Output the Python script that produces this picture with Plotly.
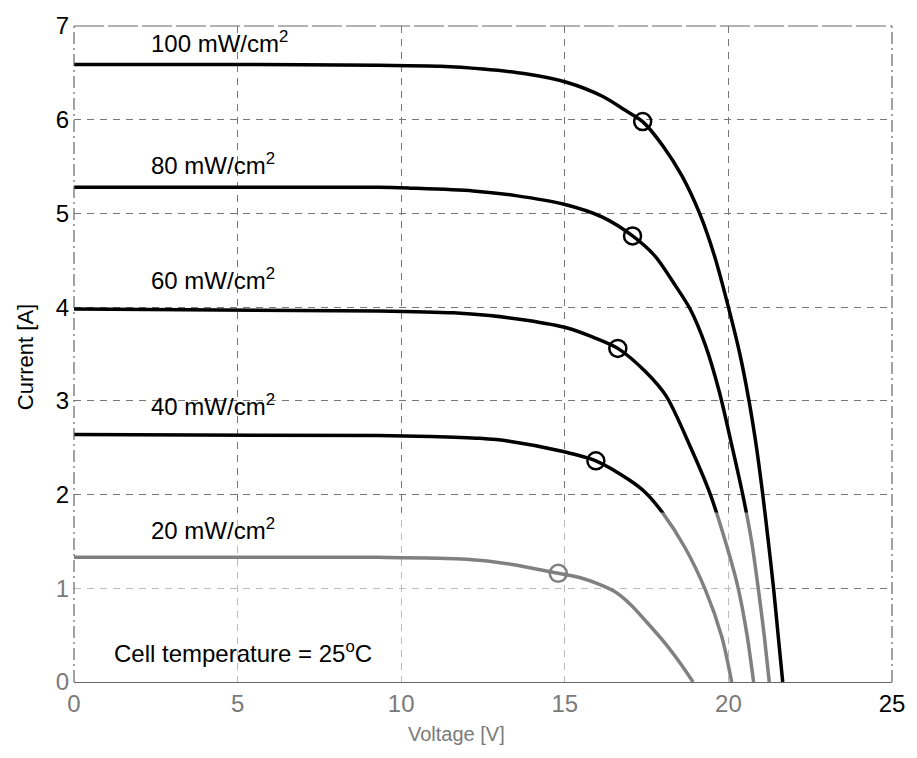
import plotly.graph_objects as go

# ---- data ----
v100 = [0, 5, 9.3, 11.2, 12.5, 13.8, 15.05, 16.15, 16.85, 17.38, 18.0, 18.58, 19.12, 19.58, 20.0, 20.35, 20.63, 20.86, 21.05, 21.22, 21.38, 21.52, 21.66]
i100 = [6.59, 6.59, 6.58, 6.57, 6.54, 6.49, 6.40, 6.25, 6.10, 5.98, 5.72, 5.40, 5.0, 4.54, 4.0, 3.5, 3.0, 2.5, 2.0, 1.5, 1.0, 0.5, 0.0]

v80 = [0, 9.3, 10.3, 12.2, 13.5, 14.95, 16.15, 17.07, 17.77, 18.38, 18.83, 19.29, 19.72, 20.12, 20.45, 20.71, 20.92, 21.1, 21.25]
i80 = [5.28, 5.28, 5.27, 5.24, 5.19, 5.10, 4.96, 4.76, 4.54, 4.23, 3.98, 3.60, 3.10, 2.50, 1.98, 1.50, 0.98, 0.48, 0.0]

v60 = [0, 9.3, 11.6, 12.7, 13.83, 15.05, 15.86, 16.62, 17.47, 18.1, 18.85, 19.45, 19.95, 20.3, 20.57, 20.77]
i60 = [3.98, 3.96, 3.94, 3.91, 3.86, 3.78, 3.68, 3.56, 3.31, 3.05, 2.50, 2.00, 1.45, 1.00, 0.50, 0.0]

v40 = [0, 9.3, 10.9, 12.4, 13.3, 14.95, 15.95, 16.95, 17.47, 17.98, 18.68, 19.3, 19.8, 20.1]
i40 = [2.64, 2.63, 2.62, 2.60, 2.57, 2.46, 2.36, 2.16, 2.02, 1.81, 1.43, 0.98, 0.48, 0.0]

v20 = [0, 9.3, 12.0, 13.3, 14.8, 15.5, 16.0, 16.5, 17.0, 17.5, 18.05, 18.55, 18.92]
i20 = [1.33, 1.33, 1.31, 1.26, 1.16, 1.11, 1.05, 0.97, 0.83, 0.64, 0.42, 0.19, 0.0]

mpp_v = [17.38, 17.07, 16.62, 15.95, 14.8]
mpp_i = [5.98, 4.76, 3.56, 2.36, 1.16]

labels = ["100 mW/cm<sup>2</sup>", "80 mW/cm<sup>2</sup>", "60 mW/cm<sup>2</sup>",
          "40 mW/cm<sup>2</sup>", "20 mW/cm<sup>2</sup>"]
label_y = [6.73, 5.43, 4.2, 2.86, 1.53]
label_x = 2.3

xtick_vals = [0, 5, 10, 15, 20, 25]
ytick_vals = [0, 1, 2, 3, 4, 5, 6, 7]

FONT = "Liberation Sans, Arial, sans-serif"
GRAY = "#7a7a7a"

fig = go.Figure()
curves = [(v100, i100), (v80, i80), (v60, i60), (v40, i40), (v20, i20)]
for v, i in curves:
    fig.add_trace(go.Scatter(x=v, y=i, mode="lines",
                             line=dict(color="black", width=3.5, shape="spline", smoothing=0.8),
                             showlegend=False, hoverinfo="skip"))
fig.add_trace(go.Scatter(x=mpp_v, y=mpp_i, mode="markers",
                         marker=dict(symbol="circle-open", size=17, color="black",
                                     line=dict(width=2.5, color="black")),
                         showlegend=False, hoverinfo="skip"))

for txt, y in zip(labels, label_y):
    fig.add_annotation(x=label_x, y=y + 0.1, text=txt, showarrow=False, xanchor="left",
                       yanchor="middle", font=dict(family=FONT, size=24, color="black"))
fig.add_annotation(x=1.17, y=0.32, text="Cell temperature = 25<sup>o</sup>C", showarrow=False,
                   xanchor="left", yanchor="middle", font=dict(family=FONT, size=24, color="black"))

# axis titles
fig.add_annotation(xref="paper", yref="paper", x=0.468, y=-0.079, text="Voltage [V]",
                   showarrow=False, xanchor="center", yanchor="middle",
                   font=dict(family=FONT, size=20, color=GRAY))
fig.add_annotation(xref="paper", yref="paper", x=-0.06, y=0.495, text="Current [A]",
                   showarrow=False, xanchor="center", yanchor="middle", textangle=-90,
                   font=dict(family=FONT, size=22, color="black"))

# grey (faded) lower region of the scan
fig.add_shape(type="path", xref="x", yref="y",
              path="M -0.5,-0.2 L -0.5,1.81 L 20.95,1.81 L 21.45,-0.2 Z",
              fillcolor="white", opacity=0.5, line=dict(width=0), layer="above")

# frame (top, left, right)
frame = dict(color="#666", width=1.2, dash="12px,4px,2px,4px")
fig.add_shape(type="line", xref="paper", yref="paper", x0=0, x1=1, y0=1, y1=1,
              line=dict(color="#666", width=1.2, dash="30px,4px"))
fig.add_shape(type="line", xref="paper", yref="paper", x0=0, x1=0, y0=0, y1=1, line=frame)
fig.add_shape(type="line", xref="paper", yref="paper", x0=1, x1=1, y0=0, y1=1, line=frame)

xt = [f'<span style="color:{GRAY}">{v}</span>' if v < 25 else str(v) for v in xtick_vals]
yt = [f'<span style="color:{GRAY}">{v}</span>' if v < 2 else str(v) for v in ytick_vals]

fig.update_xaxes(range=[0, 25], tickvals=xtick_vals, ticktext=xt, showgrid=True,
                 gridcolor="#777", griddash="7px,6px", gridwidth=1, zeroline=False,
                 showline=True, linecolor="#666", linewidth=1.2, ticks="",
                 tickfont=dict(family=FONT, size=24, color="black"))
fig.update_yaxes(range=[0, 7], tickvals=ytick_vals, ticktext=yt, showgrid=True,
                 gridcolor="#777", griddash="7px,6px", gridwidth=1, zeroline=False,
                 showline=False, ticks="", ticklabelstandoff=4,
                 tickfont=dict(family=FONT, size=24, color="black"))

fig.update_layout(width=917, height=758, margin=dict(l=74, r=18, t=16, b=76),
                  plot_bgcolor="white", paper_bgcolor="white")

fig.write_html("out.html")
